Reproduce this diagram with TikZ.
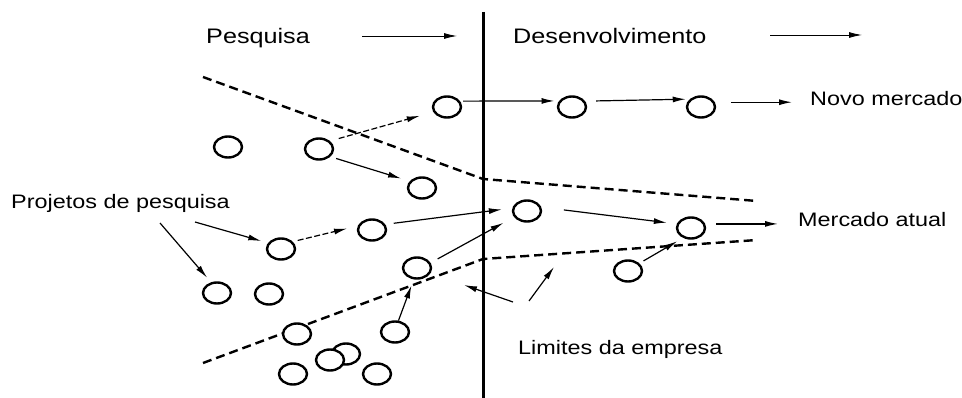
\documentclass[tikz,border=0pt]{standalone}
\usepackage{fontspec}
\setmainfont{Liberation Sans}
\usetikzlibrary{arrows.meta}
\usetikzlibrary{shapes.geometric}
\newcommand{\largo}[1]{\scalebox{1.2}[1]{#1}}

\begin{document}
\begin{tikzpicture}[x=1pt, y=-1pt,
  projeto/.style={ellipse, draw, line width=2.4pt, fill=white, minimum width=28pt, minimum height=21pt, inner sep=0pt},
  seta/.style={-{Latex[length=13pt,width=6pt]}, line width=1.2pt},
  tracos/.style={dash pattern=on 6pt off 2.5pt},
  limite/.style={line width=2.4pt, dash pattern=on 9pt off 5pt},
  rotulo/.style={anchor=base west, inner sep=0pt, font=\fontsize{19.5}{22}\selectfont},
  titulo/.style={rotulo, font=\fontsize{21}{24}\selectfont}]
  \useasboundingbox (0,0) rectangle (962,398);

  % Limites da empresa (linhas tracejadas)
  \coordinate (ls1) at (203,77);
  \coordinate (ls2) at (483,179);
  \coordinate (ls3) at (757,201);
  \coordinate (li1) at (203,363);
  \coordinate (li2) at (483,259);
  \coordinate (li3) at (757,240);
  \draw[limite] (ls1) -- (ls2) -- (ls3);
  \draw[limite] (li1) -- (li2) -- (li3);

  % Fronteira pesquisa / desenvolvimento
  \coordinate (topo) at (483,12);
  \coordinate (base) at (483,398);
  \draw[line width=3pt] (topo) -- (base);

  % Titulos
  \node[titulo] (pesq) at (206,44) {\largo{Pesquisa}};
  \node[titulo] (desenv) at (513,44) {\largo{Desenvolvimento}};
  \coordinate (pesq-a) at (362,36);
  \coordinate (pesq-b) at (457,36);
  \coordinate (desenv-a) at (770,35);
  \coordinate (desenv-b) at (862,35);
  \draw[seta, line width=0.9pt] (pesq-a) -- (pesq-b);
  \draw[seta, line width=0.9pt] (desenv-a) -- (desenv-b);

  % Projetos (circulos)
  \foreach \n/\x/\y in {1/447/107, 2/572/107, 3/701/107, 4/228/147, 5/319/149,
                        6/422/188, 7/281/249, 8/372/230, 9/527/211, 10/691/228,
                        11/417/268, 12/217/293, 13/269/294, 14/628/271, 15/297/334,
                        16/395/332, 17/346/354, 18/330/360, 19/293/374, 20/377/374} {
    \node[projeto] (c\n) at (\x,\y) {};
  }

  % Rotulos
  \node[rotulo] (novo) at (810,106) {\largo{Novo mercado}};
  \node[rotulo] (atual) at (798,227) {\largo{Mercado atual}};
  \node[rotulo] (proj) at (11,209) {\largo{Projetos de pesquisa}};
  \node[rotulo] (lim) at (518,354) {\largo{Limites da empresa}};

  % Caminho para o novo mercado
  \draw[seta, tracos, shorten <=9pt, shorten >=14pt] (c5.36) -- (c1.200);
  \draw[seta, shorten <=3pt, shorten >=4.5pt] (c1.24) -- (c2.155);
  \draw[seta, shorten <=11pt, shorten >=4pt] (c2.24) -- (c3.145);
  \draw[seta, shorten <=16pt, shorten >=18pt] (c3.19) -- (c3.19 -| novo.west);
  \draw[seta, shorten <=6pt, shorten >=9pt] (c5.326) -- (c6.151);

  % Caminho para o mercado atual
  \draw[seta, tracos, shorten <=5pt, shorten >=11pt] (c7.32) -- (c8.164);
  \draw[seta, shorten <=8.5pt, shorten >=10.5pt] (c8.23) -- (c9.169);
  \draw[seta, shorten <=8pt, shorten >=12pt] (c11.21) -- (c9.205);
  \draw[seta, shorten >=6.5pt] (c16.73) -- (c11.254);
  \draw[seta, shorten <=22.7pt, shorten >=10pt] (c9.15) -- (c10.164);
  \draw[seta, shorten <=11pt, shorten >=20pt] (c10.16) -- (c10.16 -| atual.west);
  \draw[seta, shorten <=4.7pt, shorten >=6.6pt] (c14.34) -- (c10.231);

  % Setas dos rotulos
  \coordinate (proj-a) at (160,223);
  \coordinate (proj-b) at (195,222);
  \draw[seta, shorten >=6pt] (proj-a) -- (c12.119);
  \draw[seta, shorten >=7pt] (proj-b) -- (c7.155);
  \coordinate (lim-a) at (513,302);
  \coordinate (lim-b) at (464,285);
  \coordinate (lim-c) at (529,301);
  \coordinate (lim-d) at (554,267);
  \draw[seta] (lim-a) -- (lim-b);
  \draw[seta] (lim-c) -- (lim-d);
\end{tikzpicture}
\end{document}
